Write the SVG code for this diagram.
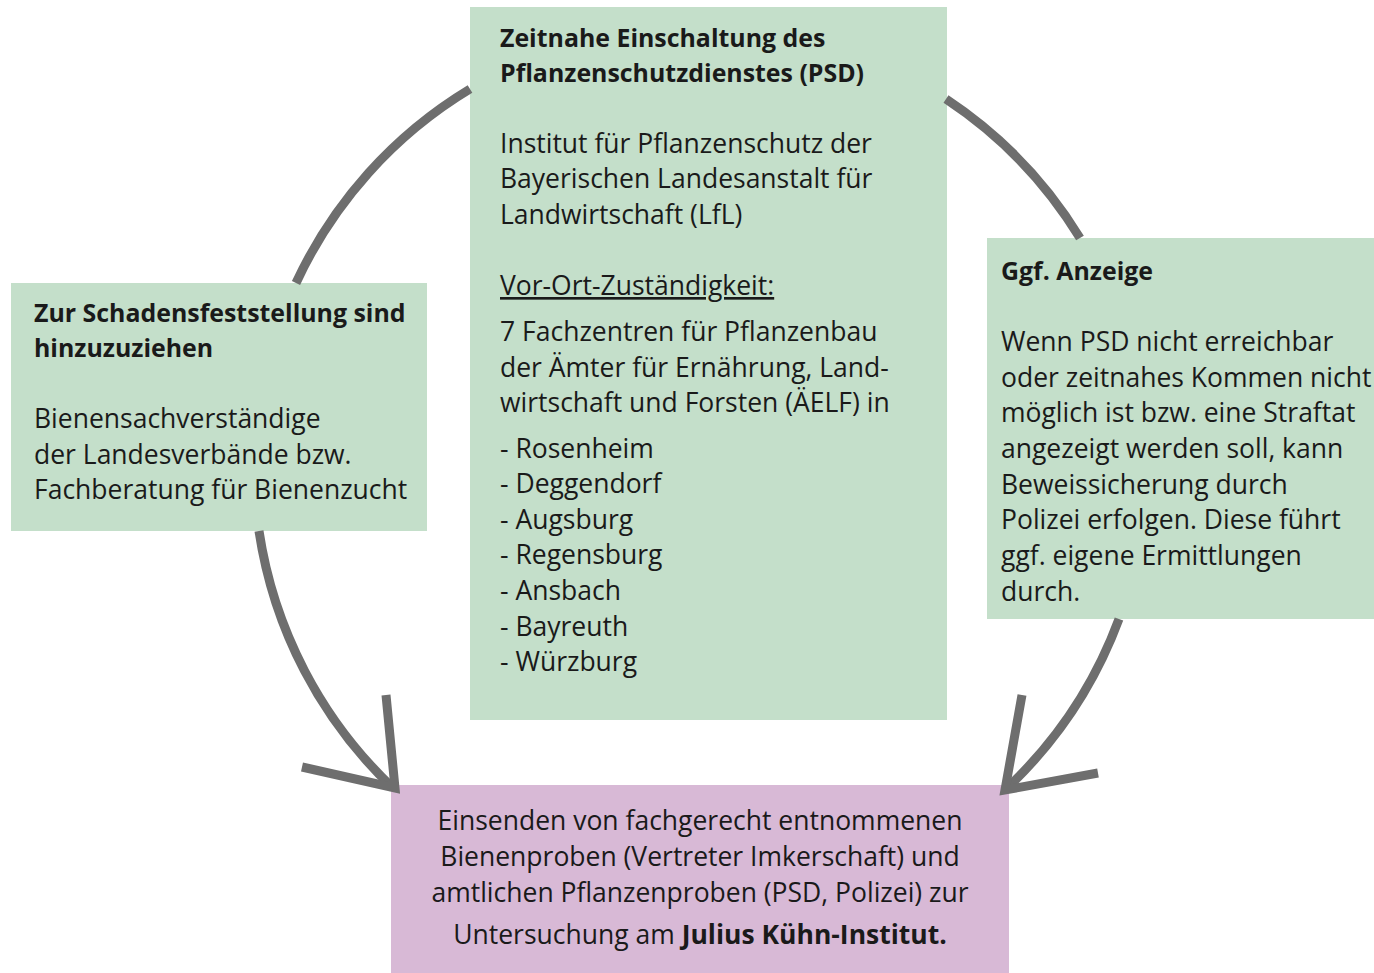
<svg xmlns="http://www.w3.org/2000/svg" width="1374" height="973" viewBox="0 0 1374 973">
<style>
.green{fill:#c4dfca}
.pink{fill:#d8b9d6}
.conn{fill:none;stroke:#6e6e6e;stroke-width:9}
.head{fill:none;stroke:#6e6e6e;stroke-width:9;stroke-linejoin:miter;stroke-miterlimit:10}
text{font-family:"Open Sans","Noto Sans",sans-serif;font-size:26.5px;fill:#1a1a1a}
.b{font-weight:700;font-size:24.9px}
.c{text-anchor:middle}
</style>
<rect width="1374" height="973" fill="#ffffff"/>
<g id="psd">
<rect class="green" x="470" y="7" width="477" height="713"/>
<text x="500" y="47" class="b">Zeitnahe Einschaltung des</text>
<text x="500" y="82" class="b">Pflanzenschutzdienstes (PSD)</text>
<text x="500" y="153">Institut für Pflanzenschutz der</text>
<text x="500" y="188">Bayerischen Landesanstalt für</text>
<text x="500" y="224">Landwirtschaft (LfL)</text>
<text x="500" y="295" text-decoration="underline">Vor-Ort-Zuständigkeit:</text>
<text x="500" y="341">7 Fachzentren für Pflanzenbau</text>
<text x="500" y="377">der Ämter für Ernährung, Land-</text>
<text x="500" y="412">wirtschaft und Forsten (ÄELF) in</text>
<text x="500" y="458">- Rosenheim</text>
<text x="500" y="493">- Deggendorf</text>
<text x="500" y="529">- Augsburg</text>
<text x="500" y="564">- Regensburg</text>
<text x="500" y="600">- Ansbach</text>
<text x="500" y="636">- Bayreuth</text>
<text x="500" y="671">- Würzburg</text>
</g>
<g id="schaden">
<rect class="green" x="11" y="283" width="416" height="248"/>
<text x="34" y="322" class="b">Zur Schadensfeststellung sind</text>
<text x="34" y="357" class="b">hinzuzuziehen</text>
<text x="34" y="428">Bienensachverständige</text>
<text x="34" y="464">der Landesverbände bzw.</text>
<text x="34" y="499">Fachberatung für Bienenzucht</text>
</g>
<g id="anzeige">
<rect class="green" x="987" y="238" width="387" height="381"/>
<text x="1001" y="280" class="b">Ggf. Anzeige</text>
<text x="1001" y="351">Wenn PSD nicht erreichbar</text>
<text x="1001" y="387">oder zeitnahes Kommen nicht</text>
<text x="1001" y="422">möglich ist bzw. eine Straftat</text>
<text x="1001" y="458">angezeigt werden soll, kann</text>
<text x="1001" y="494">Beweissicherung durch</text>
<text x="1001" y="529">Polizei erfolgen. Diese führt</text>
<text x="1001" y="565">ggf. eigene Ermittlungen</text>
<text x="1001" y="601">durch.</text>
</g>
<g id="einsenden">
<rect class="pink" x="391" y="785" width="618" height="188"/>
<text x="700" y="830" class="c">Einsenden von fachgerecht entnommenen</text>
<text x="700" y="866" class="c">Bienenproben (Vertreter Imkerschaft) und</text>
<text x="700" y="902" class="c">amtlichen Pflanzenproben (PSD, Polizei) zur</text>
<text x="700" y="944" class="c">Untersuchung am <tspan font-weight="700">Julius Kühn-Institut.</tspan></text>
</g>
<g id="connectors">
<path class="conn" d="M 296 283 A 445 445 0 0 1 470 89"/>
<path class="conn" d="M 946 99 A 445 445 0 0 1 1080 238"/>
<path class="conn" d="M 259 531 A 445 445 0 0 0 393 788"/>
<path class="conn" d="M 1119 619 A 445 445 0 0 1 1006 789"/>
<polyline class="head" points="386,695 395,788 302,767"/>
<polyline class="head" points="1022,695 1005,790 1098,773"/>
</g>
</svg>
